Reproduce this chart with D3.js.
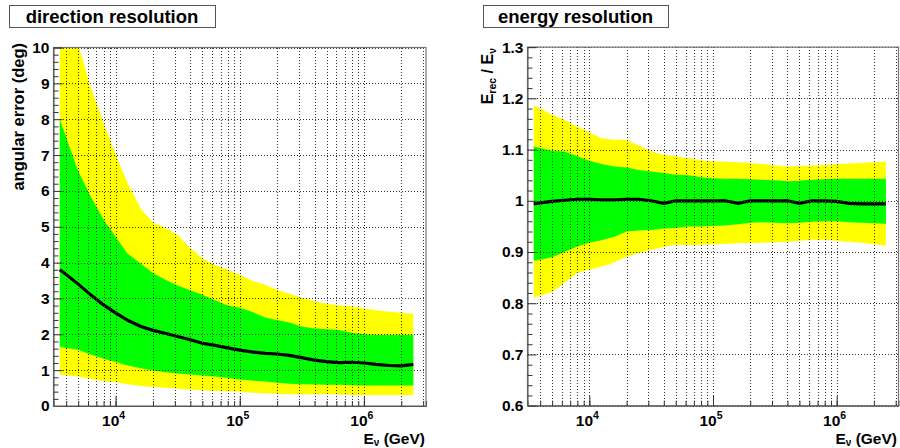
<!DOCTYPE html>
<html><head><meta charset="utf-8">
<script src="https://cdn.jsdelivr.net/npm/d3@7"></script>
<style>
body{margin:0;background:#fff;}
svg{display:block;}
text{font-family:"Liberation Sans",Arial,Helvetica,sans-serif;font-weight:bold;fill:#000;}
</style>
</head><body>
<svg id="c" width="900" height="448"></svg>
<script>
// ---------- data ----------
const energies = [3550, 4000, 5000, 6300, 8000, 10000, 12500, 16000, 20000, 25000,
  31500, 40000, 50000, 63000, 80000, 100000, 125000, 160000, 200000, 250000,
  315000, 400000, 500000, 630000, 800000, 1000000, 1250000, 1600000, 2000000, 2500000];

// direction resolution (angular error, deg)
const dirMedian  = [3.80, 3.67, 3.40, 3.10, 2.82, 2.60, 2.39, 2.22, 2.11, 2.03,
  1.94, 1.85, 1.75, 1.69, 1.62, 1.56, 1.51, 1.47, 1.45, 1.41,
  1.35, 1.28, 1.24, 1.21, 1.22, 1.20, 1.16, 1.13, 1.12, 1.16];
const dirInnerHi = [8.00, 7.50, 6.55, 5.85, 5.20, 4.72, 4.25, 3.97, 3.71, 3.53,
  3.36, 3.23, 3.10, 2.95, 2.80, 2.74, 2.63, 2.47, 2.40, 2.33,
  2.22, 2.16, 2.14, 2.12, 2.04, 2.00, 1.98, 1.98, 1.98, 1.98];
const dirInnerLo = [1.65, 1.62, 1.57, 1.44, 1.32, 1.23, 1.13, 1.05, 0.99, 0.94,
  0.91, 0.88, 0.85, 0.82, 0.78, 0.74, 0.71, 0.68, 0.65, 0.62,
  0.61, 0.60, 0.59, 0.59, 0.58, 0.57, 0.57, 0.57, 0.57, 0.57];
const dirOuterHi = [12.0, 11.4, 10.1, 8.89, 7.91, 7.02, 6.22, 5.50, 5.12, 4.98,
  4.78, 4.41, 4.12, 3.93, 3.80, 3.66, 3.50, 3.38, 3.24, 3.14,
  3.03, 2.92, 2.85, 2.80, 2.78, 2.73, 2.67, 2.63, 2.60, 2.57];
const dirOuterLo = [0.88, 0.86, 0.82, 0.75, 0.70, 0.67, 0.61, 0.56, 0.53, 0.51,
  0.48, 0.46, 0.44, 0.42, 0.41, 0.40, 0.37, 0.35, 0.34, 0.33,
  0.33, 0.33, 0.33, 0.32, 0.31, 0.31, 0.31, 0.31, 0.31, 0.31];

// energy resolution (E_rec / E_nu)
const enMedian  = [0.994, 0.996, 0.999, 1.001, 1.003, 1.003, 1.002, 1.002, 1.003, 1.003,
  1.000, 0.995, 1.000, 1.000, 1.000, 1.000, 1.000, 0.995, 1.000, 1.000,
  1.000, 1.000, 0.995, 1.000, 1.000, 0.999, 0.995, 0.994, 0.994, 0.994];
const enOuterHi = [1.186, 1.180, 1.168, 1.158, 1.145, 1.134, 1.122, 1.119, 1.119, 1.108,
  1.097, 1.090, 1.087, 1.083, 1.079, 1.077, 1.076, 1.075, 1.074, 1.072,
  1.069, 1.067, 1.068, 1.069, 1.070, 1.072, 1.073, 1.074, 1.075, 1.076];
const enInnerHi = [1.106, 1.103, 1.097, 1.096, 1.087, 1.078, 1.072, 1.067, 1.065, 1.060,
  1.057, 1.054, 1.051, 1.050, 1.046, 1.044, 1.043, 1.043, 1.042, 1.041,
  1.040, 1.038, 1.039, 1.041, 1.042, 1.043, 1.043, 1.043, 1.043, 1.043];
const enInnerLo = [0.883, 0.885, 0.890, 0.900, 0.911, 0.918, 0.923, 0.930, 0.940, 0.942,
  0.943, 0.946, 0.947, 0.950, 0.950, 0.951, 0.952, 0.954, 0.957, 0.958,
  0.957, 0.956, 0.957, 0.959, 0.960, 0.960, 0.958, 0.957, 0.956, 0.955];
const enOuterLo = [0.810, 0.815, 0.822, 0.840, 0.859, 0.866, 0.871, 0.880, 0.891, 0.898,
  0.904, 0.910, 0.914, 0.913, 0.914, 0.915, 0.916, 0.917, 0.917, 0.918,
  0.919, 0.920, 0.922, 0.924, 0.924, 0.922, 0.920, 0.918, 0.915, 0.912];

// axes / ticks / labels
const xDomain = [3162, 3162000];
const xMajor = [1e4, 1e5, 1e6];
const xMajorExp = ["4", "5", "6"];
const dirYMajor = [0,1,2,3,4,5,6,7,8,9,10];
const dirYLabels = ["0","1","2","3","4","5","6","7","8","9","10"];
const enYMajor = [0.6,0.7,0.8,0.9,1.0,1.1,1.2,1.3];
const enYLabels = ["0.6","0.7","0.8","0.9","1","1.1","1.2","1.3"];
const titles = ["direction resolution", "energy resolution"];

// ---------- drawing ----------
const svg = d3.select("#c");
const YELLOW = "#ffff00", GREEN = "#00ff00";

const xAll = [];
[1e3,1e4,1e5,1e6].forEach(d => { for (let m=1;m<10;m++){ const v=m*d; if (v>xDomain[0] && v<xDomain[1]) xAll.push(v);} });

function panel(o, idx){
  const x = d3.scaleLog().domain(xDomain).range(o.xr);
  const y = d3.scaleLinear().domain(o.yd).range(o.yr);
  const g = svg.append("g");
  const cid = "clip"+idx;
  g.append("clipPath").attr("id",cid).append("rect")
    .attr("x",o.xr[0]).attr("y",o.yr[1]).attr("width",o.xr[1]-o.xr[0]).attr("height",o.yr[0]-o.yr[1]);
  const plot = g.append("g").attr("clip-path",`url(#${cid})`);
  const area = (lo,hi)=> d3.area().x(d=>x(d)).y0((d,i)=>y(lo[i])).y1((d,i)=>y(hi[i]));
  plot.append("path").datum(energies).attr("d", area(o.outerLo,o.outerHi)).attr("fill",YELLOW);
  plot.append("path").datum(energies).attr("d", area(o.innerLo,o.innerHi)).attr("fill",GREEN);

  // grid
  const grid = g.append("g").attr("stroke","#333").attr("stroke-width",1)
     .attr("stroke-dasharray","1,2").attr("shape-rendering","crispEdges");
  xAll.forEach(v=>{
    const px = Math.round(x(v))+0.5;
    grid.append("line").attr("x1",px).attr("x2",px).attr("y1",o.yr[1]).attr("y2",o.yr[0]);
  });
  o.yMajor.forEach(v=>{
    const py = Math.round(y(v))+0.5;
    grid.append("line").attr("x1",o.xr[0]).attr("x2",o.xr[1]).attr("y1",py).attr("y2",py);
  });

  // median
  plot.append("path").datum(energies)
    .attr("d", d3.line().x(d=>x(d)).y((d,i)=>y(o.median[i])))
    .attr("fill","none").attr("stroke","#000").attr("stroke-width",3.2);

  // frame
  g.append("rect").attr("x",o.xr[0]).attr("y",o.yr[1]).attr("width",o.xr[1]-o.xr[0]).attr("height",o.yr[0]-o.yr[1])
    .attr("fill","none").attr("stroke","#777").attr("stroke-width",1.2);

  // y axis ticks
  const yMinor = [];
  for (let k=0;k<o.yMajor.length-1;k++){
    const a=o.yMajor[k], b=o.yMajor[k+1];
    for (let j=1;j<5;j++) yMinor.push(a+(b-a)*j/5);
  }
  const yAx = g.append("g").attr("transform",`translate(${o.xr[0]},0)`)
    .call(d3.axisLeft(y).tickValues(o.yMajor).tickSize(-9).tickFormat((d,i)=>o.yLabels[i]).tickPadding(4));
  yAx.select(".domain").attr("stroke","#555");
  yAx.selectAll(".tick line").attr("stroke","#333");
  yAx.selectAll("text").attr("font-size",15.5).attr("font-family",null);
  const yAxm = g.append("g").attr("transform",`translate(${o.xr[0]},0)`)
    .call(d3.axisLeft(y).tickValues(yMinor).tickSize(-5).tickFormat(""));
  yAxm.select(".domain").remove();
  yAxm.selectAll(".tick line").attr("stroke","#333");

  // x axis ticks
  const xAx = g.append("g").attr("transform",`translate(0,${o.yr[0]})`)
    .call(d3.axisBottom(x).tickValues(xAll).tickSize(-5).tickFormat(""));
  xAx.select(".domain").attr("stroke","#555");
  xAx.selectAll(".tick line").attr("stroke","#333");
  const xAxM = g.append("g").attr("transform",`translate(0,${o.yr[0]})`)
    .call(d3.axisBottom(x).tickValues(xMajor).tickSize(-10).tickFormat(""));
  xAxM.select(".domain").remove();
  xAxM.selectAll(".tick line").attr("stroke","#333");

  // x labels 10^n
  xMajor.forEach((v,i)=>{
    const t = g.append("text").attr("x",x(v)-2).attr("y",426).attr("text-anchor","middle").attr("font-size",15.5);
    t.append("tspan").text("10");
    t.append("tspan").attr("dy",-7).attr("font-size",10.5).text(xMajorExp[i]);
  });

  // x title
  const xt = g.append("text").attr("x",o.xtx).attr("y",444).attr("text-anchor","end").attr("font-size",15.5);
  xt.append("tspan").text("E");
  xt.append("tspan").attr("dy",1.5).attr("font-size",10).text("\u03bd");
  xt.append("tspan").attr("dy",-1.5).text(" (GeV)");

  // title box
  svg.append("rect").attr("x",o.box[0]+0.5).attr("y",5.5).attr("width",o.box[1]-o.box[0]).attr("height",22)
    .attr("fill","#fff").attr("stroke","#555").attr("stroke-width",1);
  svg.append("text").attr("x",(o.box[0]+o.box[1])/2).attr("y",23).attr("text-anchor","middle")
    .attr("font-size",18.5).text(o.title);
  return g;
}

const g1 = panel({xr:[53.5,426], yr:[406,47.5], yd:[0,10], yMajor:dirYMajor, yLabels:dirYLabels,
  median:dirMedian, innerLo:dirInnerLo, innerHi:dirInnerHi, outerLo:dirOuterLo, outerHi:dirOuterHi,
  box:[9,215], title:titles[0], xtx:425}, 1);
g1.append("text").attr("transform","translate(24,43) rotate(-90)").attr("text-anchor","end")
  .attr("font-size",16.5).text("angular error (deg)");

const g2 = panel({xr:[527.5,898.5], yr:[405.7,47.1], yd:[0.6,1.3], yMajor:enYMajor, yLabels:enYLabels,
  median:enMedian, innerLo:enInnerLo, innerHi:enInnerHi, outerLo:enOuterLo, outerHi:enOuterHi,
  box:[483,668], title:titles[1], xtx:897}, 2);
const yt = g2.append("text").attr("transform","translate(493,48) rotate(-90)").attr("text-anchor","end").attr("font-size",16);
yt.append("tspan").text("E");
yt.append("tspan").attr("dy",3).attr("font-size",10.5).text("rec");
yt.append("tspan").attr("dy",-3).text(" / E");
yt.append("tspan").attr("dy",3).attr("font-size",10.5).text("\u03bd");
</script>
</body></html>
